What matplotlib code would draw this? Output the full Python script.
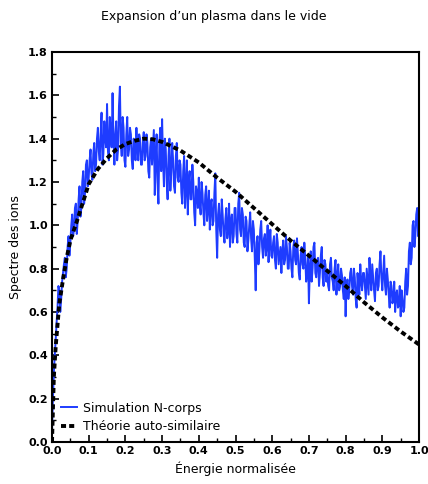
import numpy as np
import matplotlib
matplotlib.use("Agg")
import matplotlib.pyplot as plt
from matplotlib.ticker import MultipleLocator

# Simulation N-corps: values read at energy step 0.005 (0.000 .. 1.000)
sim_step = 0.005
sim_values = [
    0.05, 0.32, 0.47, 0.62, 0.70, 0.66, 0.78, 0.85, 0.80, 0.95,
    0.92, 1.05, 0.98, 1.10, 1.02, 1.18, 1.08, 1.25, 1.15, 1.30,
    1.22, 1.35, 1.21, 1.38, 1.28, 1.45, 1.30, 1.52, 1.33, 1.40,
    1.56, 1.30, 1.42, 1.61, 1.28, 1.48, 1.35, 1.64, 1.32, 1.45,
    1.27, 1.50, 1.35, 1.42, 1.26, 1.38, 1.45, 1.30, 1.40, 1.28,
    1.43, 1.32, 1.38, 1.22, 1.40, 1.36, 1.14, 1.42, 1.10, 1.45,
    1.49, 1.18, 1.35, 1.12, 1.40, 1.25, 1.30, 1.15, 1.38, 1.20,
    1.28, 1.10, 1.32, 1.18, 1.05, 1.25, 1.12, 1.20, 1.00, 1.15,
    1.22, 1.05, 1.15, 1.00, 1.18, 1.08, 0.98, 1.12, 1.02, 1.24,
    0.85, 1.10, 0.95, 1.05, 0.92, 1.08, 0.98, 0.90, 1.05, 0.95,
    1.08, 0.92, 1.15, 0.95, 1.05, 0.90, 1.02, 0.93, 1.06, 0.88,
    0.98, 0.70, 0.95, 0.88, 1.02, 0.85, 0.96, 0.90, 0.83, 0.98,
    0.85, 0.95, 0.80, 0.92, 0.86, 0.78, 0.93, 0.84, 0.90, 0.80,
    0.88, 0.76, 0.93, 0.82, 0.87, 0.75, 0.90, 0.80, 0.85, 0.78,
    0.64, 0.88, 0.80, 0.92, 0.76, 0.85, 0.78, 0.90, 0.72, 0.82,
    0.78, 0.70, 0.85, 0.74, 0.80, 0.68, 0.82, 0.72, 0.77, 0.66,
    0.58, 0.75, 0.70, 0.80, 0.68, 0.76, 0.62, 0.72, 0.82, 0.70,
    0.78, 0.66, 0.74, 0.85, 0.70, 0.76, 0.65, 0.80, 0.72, 0.88,
    0.70, 0.86, 0.68, 0.75, 0.62, 0.72, 0.66, 0.60, 0.70, 0.63,
    0.58, 0.66, 0.62, 0.80, 0.72, 0.92, 0.85, 1.02, 0.95, 1.08,
    0.98,
]
# Simulation N-corps: values read at the half steps (0.0025 .. 0.9975)
sim_values_mid = [
    0.20, 0.40, 0.55, 0.72, 0.60, 0.74, 0.82, 0.76, 0.90, 0.86,
    1.00, 0.95, 1.08, 0.96, 1.12, 1.04, 1.20, 1.10, 1.28, 1.18,
    1.30, 1.24, 1.33, 1.25, 1.40, 1.34, 1.42, 1.28, 1.48, 1.36,
    1.34, 1.50, 1.36, 1.40, 1.42, 1.30, 1.55, 1.38, 1.50, 1.30,
    1.42, 1.32, 1.45, 1.30, 1.40, 1.30, 1.36, 1.42, 1.28, 1.38,
    1.30, 1.42, 1.25, 1.36, 1.28, 1.44, 1.30, 1.20, 1.38, 1.25,
    1.30, 1.40, 1.20, 1.32, 1.16, 1.38, 1.18, 1.32, 1.22, 1.30,
    1.15, 1.25, 1.08, 1.30, 1.20, 1.12, 1.28, 1.06, 1.18, 1.08,
    1.10, 1.20, 1.06, 1.14, 1.02, 1.16, 1.10, 1.00, 1.15, 0.98,
    1.05, 0.98, 1.12, 0.96, 1.03, 0.94, 1.10, 1.02, 0.92, 1.08,
    0.96, 1.10, 0.98, 1.08, 0.92, 1.04, 0.88, 1.00, 0.94, 1.02,
    0.85, 0.92, 0.82, 0.98, 0.90, 0.94, 0.86, 1.00, 0.92, 0.86,
    0.92, 0.84, 0.96, 0.82, 0.90, 0.88, 0.82, 0.95, 0.80, 0.92,
    0.80, 0.90, 0.84, 0.94, 0.78, 0.86, 0.82, 0.92, 0.74, 0.86,
    0.80, 0.74, 0.90, 0.78, 0.84, 0.72, 0.86, 0.76, 0.84, 0.74,
    0.72, 0.82, 0.76, 0.70, 0.84, 0.76, 0.70, 0.80, 0.70, 0.76,
    0.72, 0.66, 0.78, 0.72, 0.80, 0.66, 0.78, 0.68, 0.74, 0.78,
    0.72, 0.80, 0.68, 0.76, 0.82, 0.70, 0.78, 0.70, 0.82, 0.76,
    0.78, 0.72, 0.80, 0.68, 0.74, 0.64, 0.74, 0.68, 0.62, 0.72,
    0.70, 0.60, 0.74, 0.68, 0.88, 0.82, 1.00, 0.90, 1.05, 0.95,
]

# Théorie auto-similaire
theory_energy = [0.0, 0.005, 0.01, 0.02, 0.03, 0.04, 0.05, 0.07, 0.10, 0.125,
                 0.15, 0.175, 0.20, 0.225, 0.25, 0.275, 0.30, 0.35, 0.40, 0.45,
                 0.50, 0.55, 0.60, 0.65, 0.70, 0.75, 0.80, 0.85, 0.90, 0.95, 1.00]
theory_values = [0.0, 0.30, 0.44, 0.64, 0.75, 0.85, 0.93, 1.03, 1.19, 1.26,
                 1.31, 1.35, 1.375, 1.39, 1.40, 1.397, 1.385, 1.345, 1.29, 1.22,
                 1.155, 1.08, 1.005, 0.93, 0.86, 0.79, 0.72, 0.645, 0.575, 0.51, 0.45]

x_ticks = [0.0, 0.1, 0.2, 0.3, 0.4, 0.5, 0.6, 0.7, 0.8, 0.9, 1.0]
y_ticks = [0.0, 0.2, 0.4, 0.6, 0.8, 1.0, 1.2, 1.4, 1.6, 1.8]

# merge the two read series into one ordered line
pts = [(i * sim_step, v) for i, v in enumerate(sim_values)]
pts += [((i + 0.5) * sim_step, v) for i, v in enumerate(sim_values_mid)]
pts.sort()
sim_energy = [p[0] for p in pts]
sim_all = [p[1] for p in pts]

fig = plt.figure(figsize=(4.28, 4.84), dpi=100)
ax = fig.add_axes([0.1215, 0.0868, 0.8575, 0.8058])

ax.plot(sim_energy, sim_all, color="#1E3CFF", lw=1.4, label="Simulation N-corps")
ax.plot(theory_energy, theory_values, color="black", lw=2.8,
        linestyle=(0, (1.3, 0.8)), label="Théorie auto-similaire")

ax.set_xlim(0, 1.0)
ax.set_ylim(0, 1.8)
ax.set_xticks(x_ticks)
ax.set_yticks(y_ticks)
ax.set_xticklabels([f"{t:.1f}" for t in x_ticks], fontsize=8, fontweight="bold")
ax.set_yticklabels([f"{t:.1f}" for t in y_ticks], fontsize=8, fontweight="bold")
ax.xaxis.set_minor_locator(MultipleLocator(0.05))
ax.yaxis.set_minor_locator(MultipleLocator(0.1))
ax.tick_params(which="major", direction="in", length=5, width=1.2, pad=3,
               top=False, right=False)
ax.tick_params(which="minor", direction="in", length=3, width=1.0,
               top=False, right=False)
for s in ax.spines.values():
    s.set_linewidth(1.5)

ax.set_xlabel("Énergie normalisée", fontsize=9)
ax.set_ylabel("Spectre des ions", fontsize=9)
fig.text(0.5, 0.965, "Expansion d’un plasma dans le vide", ha="center",
         va="center", fontsize=9)

leg = ax.legend(loc="lower left", frameon=False, fontsize=9, handlelength=1.3,
                handletextpad=0.5, borderaxespad=0.3, labelspacing=0.45,
                bbox_to_anchor=(0.0, 0.0))

fig.savefig("out.png", dpi=100)
